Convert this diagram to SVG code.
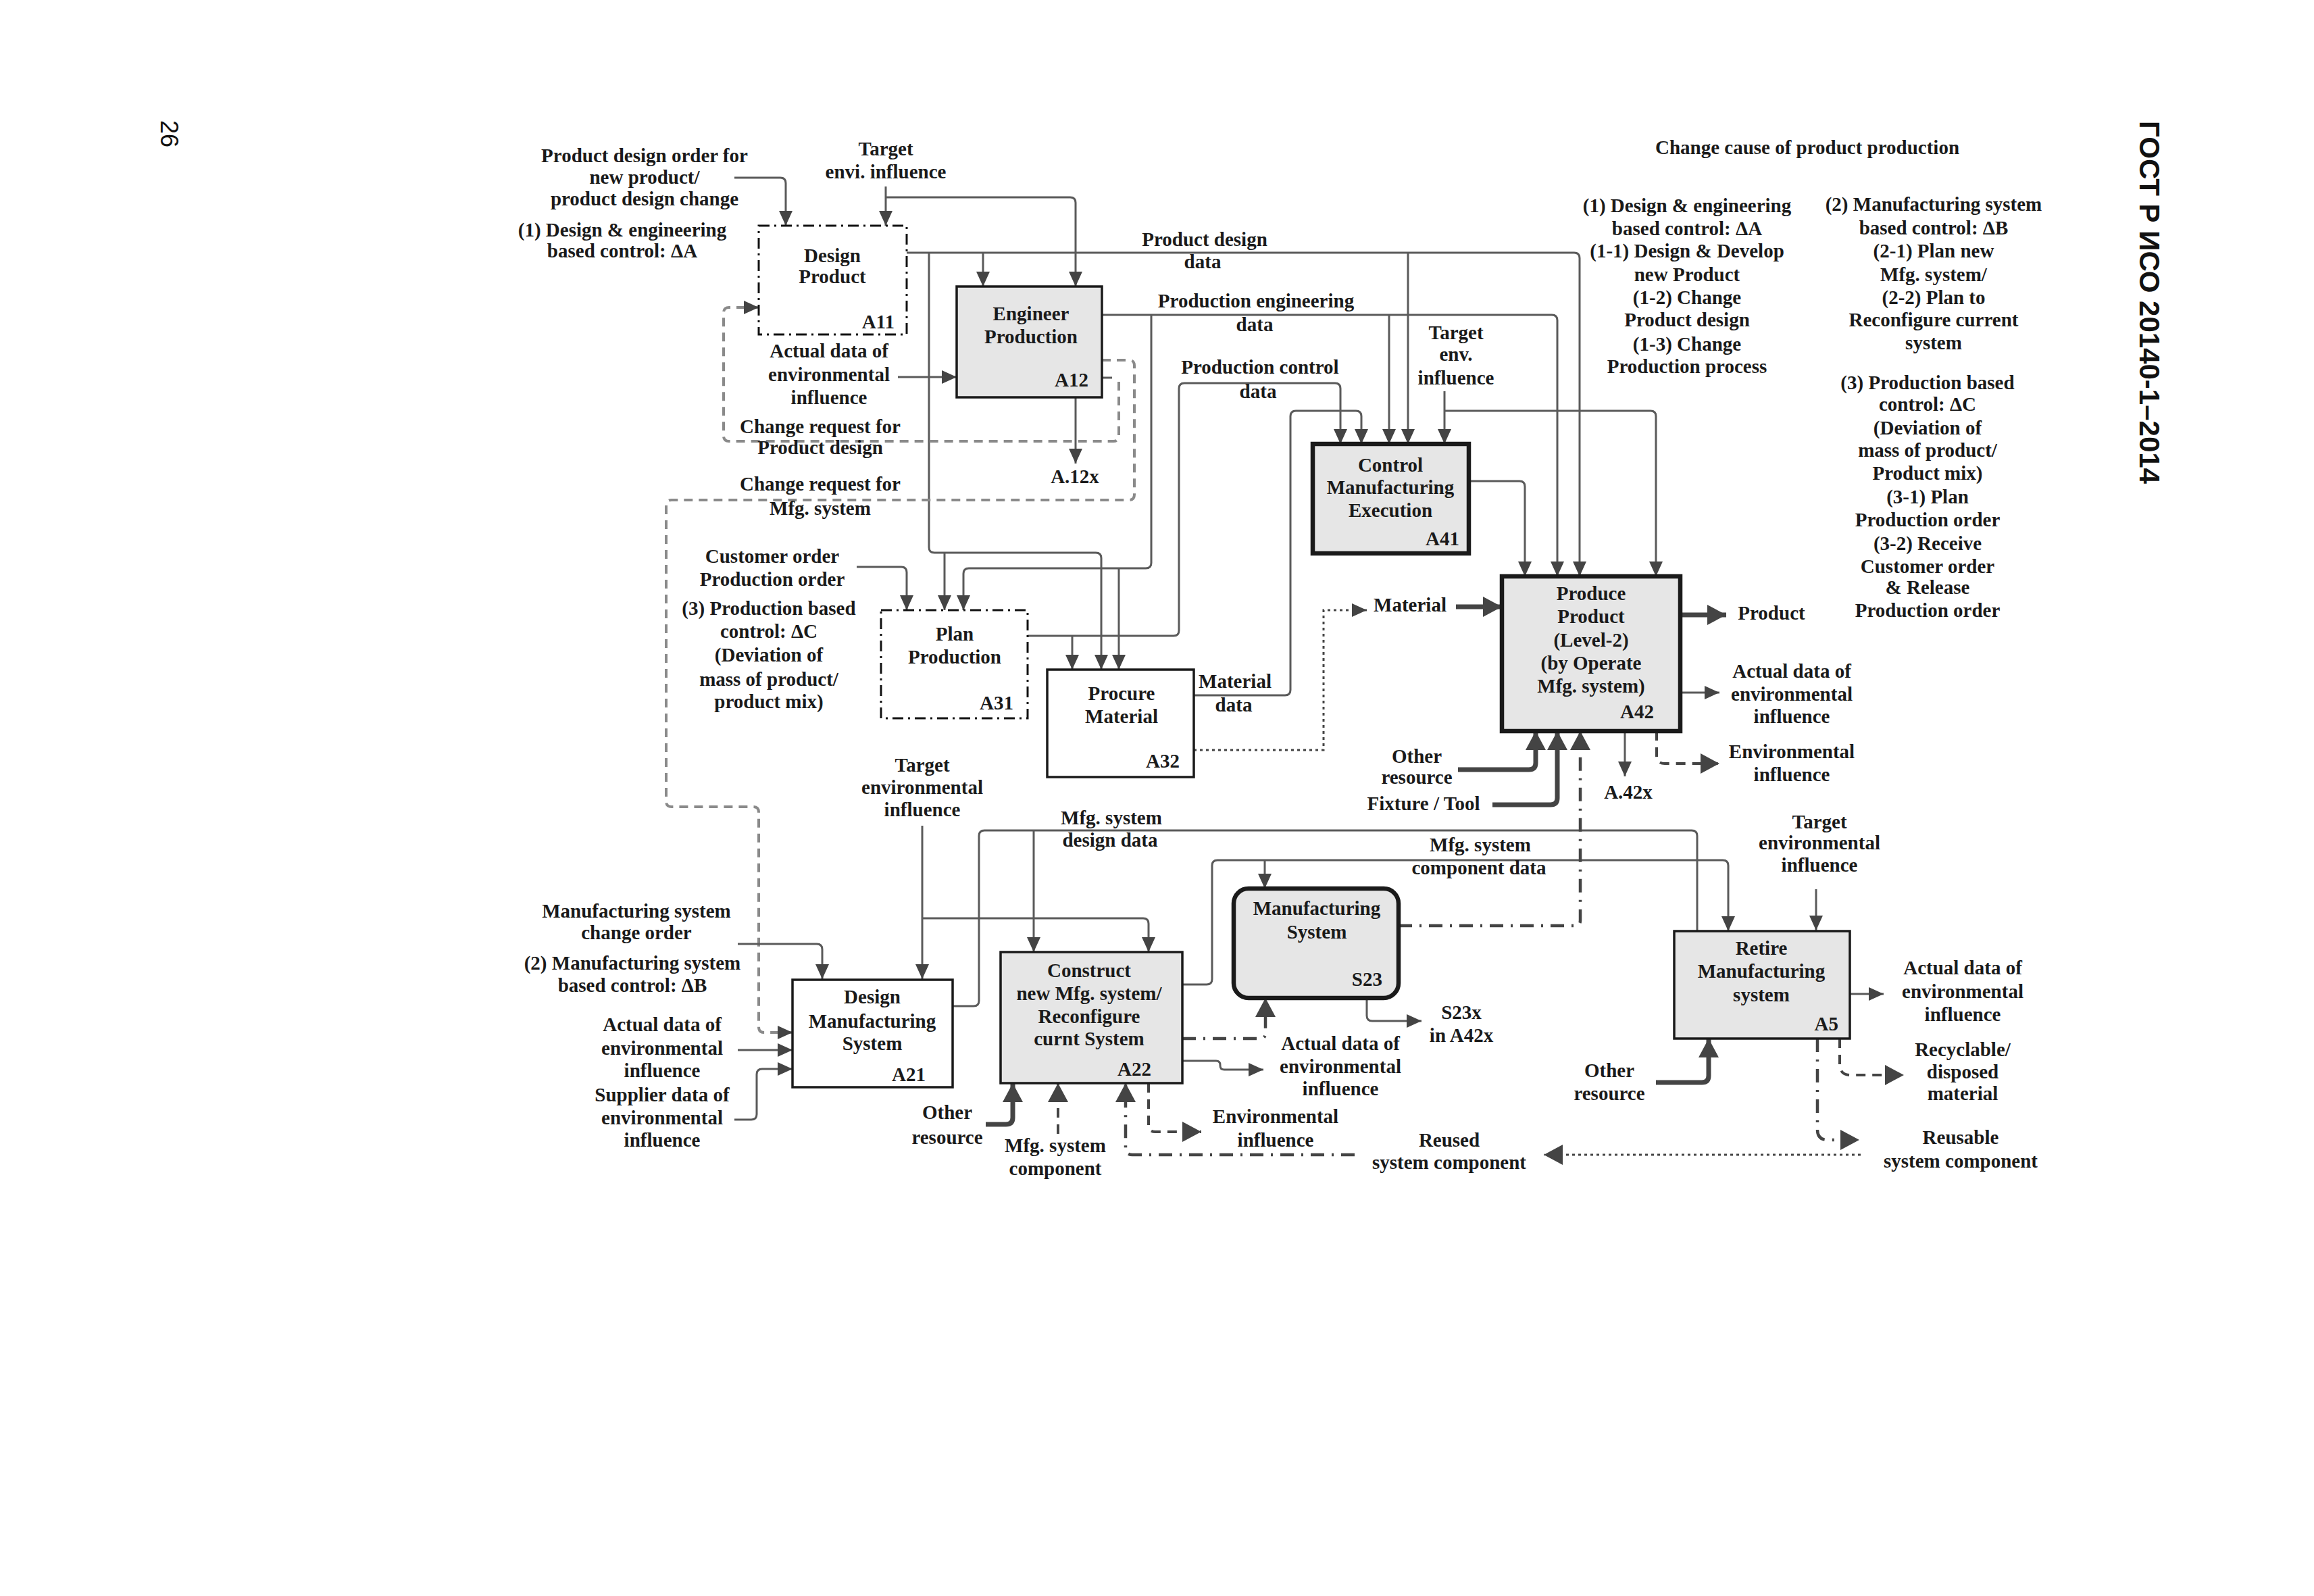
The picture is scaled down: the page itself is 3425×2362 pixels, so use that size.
<svg xmlns="http://www.w3.org/2000/svg" width="3425" height="2362" viewBox="0 0 3425 2362">
<style>
text{font-family:"Liberation Serif","Times New Roman",serif;font-weight:bold;font-size:29px;fill:#1a1a1a;text-anchor:middle}
text.r{text-anchor:end}
.ln{fill:none;stroke:#5a5a5a;stroke-width:3;stroke-linejoin:round}
.thick{fill:none;stroke:#444;stroke-width:7;stroke-linejoin:round}
.dash{fill:none;stroke:#8a8a8a;stroke-width:4;stroke-dasharray:13 9}
.dashd{fill:none;stroke:#444;stroke-width:4;stroke-dasharray:14 10}
.dashdot{fill:none;stroke:#444;stroke-width:4.5;stroke-dasharray:20 11 3 11}
.dot{fill:none;stroke:#444;stroke-width:3;stroke-dasharray:4 5}
.dd{fill:#fff;stroke:#111;stroke-width:3;stroke-dasharray:16 7 3 7}
.wbox{fill:#fff;stroke:#1a1a1a;stroke-width:3.5}
.gbox{fill:#e6e6e6;stroke:#1a1a1a;stroke-width:3.5}
.tb{stroke-width:6.5}
</style>
<defs>
<marker id="ah" markerUnits="userSpaceOnUse" markerWidth="22" markerHeight="20" refX="22" refY="10" orient="auto"><path d="M0,0 L22,10 L0,20 z" fill="#444"/></marker>
<marker id="ahb" markerUnits="userSpaceOnUse" markerWidth="28" markerHeight="30" refX="28" refY="15" orient="auto"><path d="M0,0 L28,15 L0,30 z" fill="#444"/></marker>
</defs>
<rect width="3425" height="2362" fill="#fff"/>

<g id="connectors">
<path class="ln" marker-end="url(#ah)" d="M1087,263 H1155 Q1163,263 1163,271 V334"/>
<path class="ln" marker-end="url(#ah)" d="M1311,276 V334"/>
<path class="ln" marker-end="url(#ah)" d="M1311,292 H1584 Q1592,292 1592,300 V424"/>
<path class="ln" marker-end="url(#ah)" d="M1342,374 H2330 Q2338,374 2338,382 V853"/>
<path class="ln" marker-end="url(#ah)" d="M1375,374 V810 Q1375,818 1383,818 H1622 Q1630,818 1630,826 V991"/>
<path class="ln" marker-end="url(#ah)" d="M1398,818 V903"/>
<path class="ln" marker-end="url(#ah)" d="M1455,374 V424"/>
<path class="ln" marker-end="url(#ah)" d="M2084,374 V657"/>
<path class="ln" marker-end="url(#ah)" d="M1631,466 H2297 Q2305,466 2305,474 V853"/>
<path class="ln" marker-end="url(#ah)" d="M1704,466 V833 Q1704,841 1696,841 H1434 Q1426,841 1426,849 V903"/>
<path class="ln" marker-end="url(#ah)" d="M1656,841 V991"/>
<path class="ln" marker-end="url(#ah)" d="M2056,466 V657"/>
<path class="ln" marker-end="url(#ah)" d="M1521,941 H1737 Q1745,941 1745,933 V575 Q1745,567 1753,567 H1976 Q1984,567 1984,575 V657"/>
<path class="ln" marker-end="url(#ah)" d="M1587,941 V991"/>
<path class="ln" marker-end="url(#ah)" d="M2138,579 V657"/>
<path class="ln" marker-end="url(#ah)" d="M2138,608 H2443 Q2451,608 2451,616 V853"/>
<path class="ln" marker-end="url(#ah)" d="M1767,1029 H1902 Q1910,1029 1910,1021 V616 Q1910,608 1918,608 H2007 Q2015,608 2015,616 V657"/>
<path class="ln" marker-end="url(#ah)" d="M2174,712 H2249 Q2257,712 2257,720 V853"/>
<path class="ln" marker-end="url(#ah)" d="M1329,558 H1416"/>
<path class="ln" marker-end="url(#ah)" d="M1592,588 V686"/>
<path class="ln" d="M1631,559 H1646"/>
<path class="dash" marker-end="url(#ah)" d="M1656,565 V645 Q1656,653 1648,653 H1079 Q1071,653 1071,645 V463 Q1071,455 1079,455 H1123"/>
<path class="dash" marker-end="url(#ah)" d="M1631,533 H1671 Q1679,533 1679,541 V732 Q1679,740 1671,740 H994 Q986,740 986,748 V1186 Q986,1194 994,1194 H1115 Q1123,1194 1123,1202 V1520 Q1123,1528 1131,1528 H1173"/>
<path class="ln" marker-end="url(#ah)" d="M1268,839 H1334 Q1342,839 1342,847 V903"/>
<path class="dot" marker-end="url(#ah)" d="M1767,1110 H1959 V903 H2023"/>
<path class="thick" marker-end="url(#ahb)" d="M2155,898 H2223"/>
<path class="thick" marker-end="url(#ahb)" d="M2158,1139 H2263 Q2273,1139 2273,1129 V1082"/>
<path class="thick" marker-end="url(#ahb)" d="M2209,1191 H2295 Q2305,1191 2305,1181 V1082"/>
<path class="thick" marker-end="url(#ahb)" d="M2487,910 H2555"/>
<path class="ln" marker-end="url(#ah)" d="M2487,1025 H2545"/>
<path class="ln" marker-end="url(#ah)" d="M2405,1082 V1149"/>
<path class="dashd" marker-end="url(#ahb)" d="M2452,1082 V1118 Q2452,1130 2464,1130 H2545"/>
<path class="ln" marker-end="url(#ah)" d="M1365,1222 V1449"/>
<path class="ln" marker-end="url(#ah)" d="M1365,1359 H1692 Q1700,1359 1700,1367 V1409"/>
<path class="ln" d="M1410,1489 H1441 Q1449,1489 1449,1481 V1237 Q1449,1229 1457,1229 H2504 Q2512,1229 2512,1237 V1378"/>
<path class="ln" marker-end="url(#ah)" d="M1530,1229 V1409"/>
<path class="ln" marker-end="url(#ah)" d="M1750,1457 H1786 Q1794,1457 1794,1449 V1281 Q1794,1273 1802,1273 H2550 Q2558,1273 2558,1281 V1378"/>
<path class="ln" marker-end="url(#ah)" d="M1872,1273 V1315"/>
<path class="dashdot" marker-end="url(#ahb)" d="M2070,1370 H2331 Q2339,1370 2339,1362 V1082"/>
<path class="ln" marker-end="url(#ah)" d="M2023,1477 V1503 Q2023,1511 2031,1511 H2104"/>
<path class="dashdot" marker-end="url(#ahb)" d="M1750,1537 H1865 Q1873,1537 1873,1529 V1477"/>
<path class="ln" marker-end="url(#ah)" d="M1750,1570 H1800 Q1806,1570 1806,1576 V1577 Q1806,1583 1812,1583 H1870"/>
<path class="dashd" marker-end="url(#ahb)" d="M1700,1603 V1665 Q1700,1675 1710,1675 H1778"/>
<path class="dashdot" marker-end="url(#ahb)" d="M2005,1709 H1676 Q1666,1709 1666,1699 V1603"/>
<path class="dashd" marker-end="url(#ahb)" d="M1566,1678 V1603"/>
<path class="thick" marker-end="url(#ahb)" d="M1459,1664 H1489 Q1499,1664 1499,1654 V1603"/>
<path class="ln" marker-end="url(#ah)" d="M1092,1397 H1209 Q1217,1397 1217,1405 V1449"/>
<path class="ln" marker-end="url(#ah)" d="M1092,1554 H1173"/>
<path class="ln" marker-end="url(#ah)" d="M1087,1657 H1112 Q1120,1657 1120,1649 V1590 Q1120,1582 1128,1582 H1173"/>
<path class="ln" marker-end="url(#ah)" d="M2688,1316 V1377"/>
<path class="ln" marker-end="url(#ah)" d="M2738,1471 H2788"/>
<path class="thick" marker-end="url(#ahb)" d="M2451,1602 H2519 Q2529,1602 2529,1592 V1537"/>
<path class="dashd" marker-end="url(#ahb)" d="M2723,1537 V1575 Q2723,1591 2739,1591 H2818"/>
<path class="dashdot" marker-end="url(#ahb)" d="M2690,1537 V1672 Q2690,1687 2705,1687 H2752"/>
<path class="dot" marker-end="url(#ahb)" d="M2754,1709 H2285"/>
</g>

<g id="A11"><rect x="1123" y="334" width="219" height="161" class="dd"/>
<text><tspan x="1232" y="388">Design</tspan><tspan x="1232" y="419">Product</tspan></text><text class="r" x="1324" y="486">A11</text></g>
<g id="A12"><rect x="1416" y="424" width="215" height="164" class="gbox" stroke-width="4"/>
<text><tspan x="1526" y="474">Engineer</tspan><tspan x="1526" y="508">Production</tspan></text><text class="r" x="1611" y="572">A12</text></g>
<g id="A31"><rect x="1304" y="903" width="217" height="160" class="dd"/>
<text><tspan x="1413" y="948">Plan</tspan><tspan x="1413" y="982">Production</tspan></text><text class="r" x="1500" y="1050">A31</text></g>
<g id="A32"><rect x="1550" y="991" width="217" height="159" class="wbox"/>
<text><tspan x="1660" y="1036">Procure</tspan><tspan x="1660" y="1070">Material</tspan></text><text class="r" x="1746" y="1136">A32</text></g>
<g id="A41"><rect x="1943" y="657" width="231" height="162" class="gbox tb"/>
<text><tspan x="2058" y="698">Control</tspan><tspan x="2058" y="731">Manufacturing</tspan><tspan x="2058" y="765">Execution</tspan></text><text class="r" x="2160" y="807">A41</text></g>
<g id="A42"><rect x="2223" y="853" width="264" height="229" class="gbox tb"/>
<text><tspan x="2355" y="888">Produce</tspan><tspan x="2355" y="922">Product</tspan><tspan x="2355" y="957">(Level-2)</tspan><tspan x="2355" y="991">(by Operate</tspan><tspan x="2355" y="1025">Mfg. system)</tspan></text><text class="r" x="2448" y="1063">A42</text></g>
<g id="A21"><rect x="1173" y="1450" width="237" height="159" class="wbox"/>
<text><tspan x="1291" y="1485">Design</tspan><tspan x="1291" y="1521">Manufacturing</tspan><tspan x="1291" y="1554">System</tspan></text><text class="r" x="1370" y="1600">A21</text></g>
<g id="A22"><rect x="1481" y="1409" width="269" height="194" class="gbox"/>
<text><tspan x="1612" y="1446">Construct</tspan><tspan x="1612" y="1480">new Mfg. system/</tspan><tspan x="1612" y="1514">Reconfigure</tspan><tspan x="1612" y="1547">curnt System</tspan></text><text class="r" x="1704" y="1592">A22</text></g>
<g id="S23"><rect x="1826" y="1315" width="244" height="162" rx="22" class="gbox tb"/>
<text><tspan x="1949" y="1354">Manufacturing</tspan><tspan x="1949" y="1389">System</tspan></text><text class="r" x="2046" y="1459">S23</text></g>
<g id="A5"><rect x="2478" y="1378" width="260" height="159" class="gbox"/>
<text><tspan x="2607" y="1413">Retire</tspan><tspan x="2607" y="1447">Manufacturing</tspan><tspan x="2607" y="1482">system</tspan></text><text class="r" x="2721" y="1525">A5</text></g>

<g id="labels">
<text><tspan x="954" y="240">Product design order for</tspan><tspan x="954" y="272">new product/</tspan><tspan x="954" y="304">product design change</tspan></text>
<text><tspan x="921" y="350">(1) Design &amp; engineering</tspan><tspan x="921" y="381">based control: ΔA</tspan></text>
<text><tspan x="1311" y="230">Target</tspan><tspan x="1311" y="264">envi. influence</tspan></text>
<text><tspan x="1227" y="529">Actual data of</tspan><tspan x="1227" y="564">environmental</tspan><tspan x="1227" y="598">influence</tspan></text>
<text><tspan x="1214" y="641">Change request for</tspan><tspan x="1214" y="672">Product design</tspan></text>
<text><tspan x="1214" y="726">Change request for</tspan><tspan x="1214" y="762">Mfg. system</tspan></text>
<text x="1591" y="715">A.12x</text>
<text><tspan x="1783" y="364">Product design</tspan><tspan x="1780" y="397">data</tspan></text>
<text><tspan x="1859" y="455">Production engineering</tspan><tspan x="1857" y="490">data</tspan></text>
<text><tspan x="1865" y="553">Production control</tspan><tspan x="1862" y="589">data</tspan></text>
<text><tspan x="2155" y="502">Target</tspan><tspan x="2155" y="534">env.</tspan><tspan x="2155" y="569">influence</tspan></text>
<text><tspan x="1143" y="833">Customer order</tspan><tspan x="1143" y="867">Production order</tspan></text>
<text><tspan x="1138" y="910">(3) Production based</tspan><tspan x="1138" y="944">control: ΔC</tspan><tspan x="1138" y="979">(Deviation of</tspan><tspan x="1138" y="1015">mass of product/</tspan><tspan x="1138" y="1048">product mix)</tspan></text>
<text><tspan x="1828" y="1018">Material</tspan><tspan x="1826" y="1053">data</tspan></text>
<text x="2087" y="905">Material</text>
<text x="2622" y="917">Product</text>
<text><tspan x="2652" y="1003">Actual data of</tspan><tspan x="2652" y="1037">environmental</tspan><tspan x="2652" y="1070">influence</tspan></text>
<text><tspan x="2652" y="1122">Environmental</tspan><tspan x="2652" y="1156">influence</tspan></text>
<text><tspan x="2097" y="1129">Other</tspan><tspan x="2097" y="1160">resource</tspan></text>
<text x="2107" y="1199">Fixture / Tool</text>
<text x="2410" y="1182">A.42x</text>
<text><tspan x="1365" y="1142">Target</tspan><tspan x="1365" y="1175">environmental</tspan><tspan x="1365" y="1208">influence</tspan></text>
<text><tspan x="1645" y="1220">Mfg. system</tspan><tspan x="1643" y="1253">design data</tspan></text>
<text><tspan x="2191" y="1260">Mfg. system</tspan><tspan x="2189" y="1294">component data</tspan></text>
<text><tspan x="2693" y="1226">Target</tspan><tspan x="2693" y="1257">environmental</tspan><tspan x="2693" y="1290">influence</tspan></text>
<text><tspan x="942" y="1358">Manufacturing system</tspan><tspan x="942" y="1390">change order</tspan></text>
<text><tspan x="936" y="1435">(2) Manufacturing system</tspan><tspan x="936" y="1468">based control: ΔB</tspan></text>
<text><tspan x="980" y="1526">Actual data of</tspan><tspan x="980" y="1561">environmental</tspan><tspan x="980" y="1594">influence</tspan></text>
<text><tspan x="980" y="1630">Supplier data of</tspan><tspan x="980" y="1664">environmental</tspan><tspan x="980" y="1697">influence</tspan></text>
<text><tspan x="1402" y="1656">Other</tspan><tspan x="1402" y="1693">resource</tspan></text>
<text><tspan x="1562" y="1705">Mfg. system</tspan><tspan x="1562" y="1739">component</tspan></text>
<text><tspan x="2163" y="1508">S23x</tspan><tspan x="2163" y="1542">in A42x</tspan></text>
<text><tspan x="1984" y="1554">Actual data of</tspan><tspan x="1984" y="1588">environmental</tspan><tspan x="1984" y="1621">influence</tspan></text>
<text><tspan x="1888" y="1662">Environmental</tspan><tspan x="1888" y="1697">influence</tspan></text>
<text><tspan x="2145" y="1697">Reused</tspan><tspan x="2145" y="1730">system component</tspan></text>
<text><tspan x="2382" y="1594">Other</tspan><tspan x="2382" y="1628">resource</tspan></text>
<text><tspan x="2905" y="1442">Actual data of</tspan><tspan x="2905" y="1477">environmental</tspan><tspan x="2905" y="1511">influence</tspan></text>
<text><tspan x="2905" y="1563">Recyclable/</tspan><tspan x="2905" y="1596">disposed</tspan><tspan x="2905" y="1628">material</tspan></text>
<text><tspan x="2902" y="1693">Reusable</tspan><tspan x="2902" y="1728">system component</tspan></text>
<text x="2675" y="228">Change cause of product production</text>
<text><tspan x="2497" y="314">(1) Design &amp; engineering</tspan><tspan x="2497" y="348">based control: ΔA</tspan><tspan x="2497" y="381">(1-1) Design &amp; Develop</tspan><tspan x="2497" y="416">new Product</tspan><tspan x="2497" y="450">(1-2) Change</tspan><tspan x="2497" y="483">Product design</tspan><tspan x="2497" y="519">(1-3) Change</tspan><tspan x="2497" y="552">Production process</tspan></text>
<text><tspan x="2862" y="312">(2) Manufacturing system</tspan><tspan x="2862" y="347">based control: ΔB</tspan><tspan x="2862" y="381">(2-1) Plan new</tspan><tspan x="2862" y="416">Mfg. system/</tspan><tspan x="2862" y="450">(2-2) Plan to</tspan><tspan x="2862" y="483">Reconfigure current</tspan><tspan x="2862" y="517">system</tspan></text>
<text><tspan x="2853" y="576">(3) Production based</tspan><tspan x="2853" y="608">control: ΔC</tspan><tspan x="2853" y="643">(Deviation of</tspan><tspan x="2853" y="676">mass of product/</tspan><tspan x="2853" y="710">Product mix)</tspan><tspan x="2853" y="745">(3-1) Plan</tspan><tspan x="2853" y="779">Production order</tspan><tspan x="2853" y="814">(3-2) Receive</tspan><tspan x="2853" y="848">Customer order</tspan><tspan x="2853" y="879">&amp; Release</tspan><tspan x="2853" y="913">Production order</tspan></text>
</g>

<g id="page">
<text transform="translate(3167,179) rotate(90)" style="font-family:'Liberation Sans',Arial,sans-serif;font-weight:bold;font-size:42px;text-anchor:start;fill:#111">ГОСТ Р ИСО 20140-1–2014</text>
<text transform="translate(238,178) rotate(90)" style="font-family:'Liberation Sans',Arial,sans-serif;font-weight:normal;font-size:36px;text-anchor:start;fill:#111">26</text>
</g>
</svg>
